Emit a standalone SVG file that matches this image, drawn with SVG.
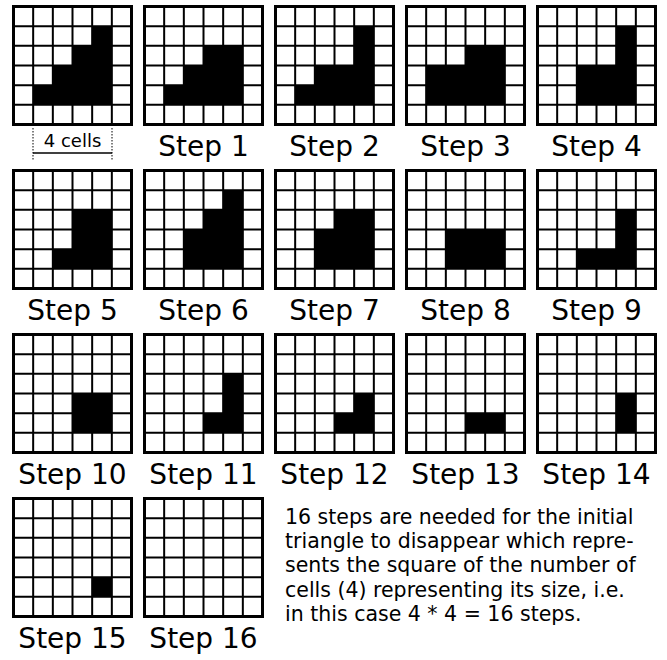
<svg xmlns="http://www.w3.org/2000/svg" xmlns:xlink="http://www.w3.org/1999/xlink" width="667" height="660" viewBox="0 0 667 660">
<style>
.lbl{font-family:"DejaVu Sans","Liberation Sans",sans-serif;font-size:28px;fill:#000;text-anchor:middle}
.para{font-family:"DejaVu Sans","Liberation Sans",sans-serif;font-size:20.5px;fill:#000}
.dim{font-family:"DejaVu Sans","Liberation Sans",sans-serif;font-size:18px;fill:#000;text-anchor:middle}
.b{fill:#000}
</style>
<defs>
<g id="grid">
<rect x="0" y="0" width="118" height="118" fill="#fff" stroke="#000" stroke-width="3"/>
<path d="M19.667 0V118M39.333 0V118M59 0V118M78.667 0V118M98.333 0V118M0 19.667H118M0 39.333H118M0 59H118M0 78.667H118M0 98.333H118" stroke="#000" stroke-width="2" fill="none"/>
</g>
</defs>
<rect width="667" height="660" fill="#fff"/>

<g id="initial" transform="translate(13.5,6.5)">
<use xlink:href="#grid"/>
<rect class="b" x="78.667" y="19.667" width="19.667" height="19.667"/>
<rect class="b" x="59" y="39.333" width="39.333" height="19.667"/>
<rect class="b" x="39.333" y="59" width="59" height="19.667"/>
<rect class="b" x="19.667" y="78.667" width="78.667" height="19.667"/>
</g>
<g id="dimension">
<path d="M33 128V160M112 128V160" stroke="#000" stroke-width="1" stroke-dasharray="1.5 1.5" fill="none"/>
<path d="M33 153H112" stroke="#000" stroke-width="1.5" fill="none"/>
<text class="dim" x="72.5" y="147">4 cells</text>
</g>

<g id="step1" transform="translate(144.5,6.5)">
<use xlink:href="#grid"/>
<rect class="b" x="59" y="39.333" width="39.333" height="19.667"/>
<rect class="b" x="39.333" y="59" width="59" height="19.667"/>
<rect class="b" x="19.667" y="78.667" width="78.667" height="19.667"/>
</g>
<g id="step2" transform="translate(275.5,6.5)">
<use xlink:href="#grid"/>
<rect class="b" x="78.667" y="19.667" width="19.667" height="39.333"/>
<rect class="b" x="39.333" y="59" width="59" height="19.667"/>
<rect class="b" x="19.667" y="78.667" width="78.667" height="19.667"/>
</g>
<g id="step3" transform="translate(406.5,6.5)">
<use xlink:href="#grid"/>
<rect class="b" x="59" y="39.333" width="39.333" height="19.667"/>
<rect class="b" x="19.667" y="59" width="78.667" height="39.333"/>
</g>
<g id="step4" transform="translate(537.5,6.5)">
<use xlink:href="#grid"/>
<rect class="b" x="78.667" y="19.667" width="19.667" height="39.333"/>
<rect class="b" x="39.333" y="59" width="59" height="39.333"/>
</g>

<g id="step5" transform="translate(13.5,170.5)">
<use xlink:href="#grid"/>
<rect class="b" x="59" y="39.333" width="39.333" height="39.333"/>
<rect class="b" x="39.333" y="78.667" width="59" height="19.667"/>
</g>
<g id="step6" transform="translate(144.5,170.5)">
<use xlink:href="#grid"/>
<rect class="b" x="78.667" y="19.667" width="19.667" height="19.667"/>
<rect class="b" x="59" y="39.333" width="39.333" height="19.667"/>
<rect class="b" x="39.333" y="59" width="59" height="39.333"/>
</g>
<g id="step7" transform="translate(275.5,170.5)">
<use xlink:href="#grid"/>
<rect class="b" x="59" y="39.333" width="39.333" height="19.667"/>
<rect class="b" x="39.333" y="59" width="59" height="39.333"/>
</g>
<g id="step8" transform="translate(406.5,170.5)">
<use xlink:href="#grid"/>
<rect class="b" x="39.333" y="59" width="59" height="39.333"/>
</g>
<g id="step9" transform="translate(537.5,170.5)">
<use xlink:href="#grid"/>
<rect class="b" x="78.667" y="39.333" width="19.667" height="39.333"/>
<rect class="b" x="39.333" y="78.667" width="59" height="19.667"/>
</g>

<g id="step10" transform="translate(13.5,334.5)">
<use xlink:href="#grid"/>
<rect class="b" x="59" y="59" width="39.333" height="39.333"/>
</g>
<g id="step11" transform="translate(144.5,334.5)">
<use xlink:href="#grid"/>
<rect class="b" x="78.667" y="39.333" width="19.667" height="39.333"/>
<rect class="b" x="59" y="78.667" width="39.333" height="19.667"/>
</g>
<g id="step12" transform="translate(275.5,334.5)">
<use xlink:href="#grid"/>
<rect class="b" x="78.667" y="59" width="19.667" height="19.667"/>
<rect class="b" x="59" y="78.667" width="39.333" height="19.667"/>
</g>
<g id="step13" transform="translate(406.5,334.5)">
<use xlink:href="#grid"/>
<rect class="b" x="59" y="78.667" width="39.333" height="19.667"/>
</g>
<g id="step14" transform="translate(537.5,334.5)">
<use xlink:href="#grid"/>
<rect class="b" x="78.667" y="59" width="19.667" height="39.333"/>
</g>

<g id="step15" transform="translate(13.5,498.5)">
<use xlink:href="#grid"/>
<rect class="b" x="78.667" y="78.667" width="19.667" height="19.667"/>
</g>
<g id="step16" transform="translate(144.5,498.5)">
<use xlink:href="#grid"/>
</g>

<g id="labels">
<text class="lbl" x="203.5" y="156">Step 1</text>
<text class="lbl" x="334.5" y="156">Step 2</text>
<text class="lbl" x="465.5" y="156">Step 3</text>
<text class="lbl" x="596.5" y="156">Step 4</text>
<text class="lbl" x="72.5" y="320">Step 5</text>
<text class="lbl" x="203.5" y="320">Step 6</text>
<text class="lbl" x="334.5" y="320">Step 7</text>
<text class="lbl" x="465.5" y="320">Step 8</text>
<text class="lbl" x="596.5" y="320">Step 9</text>
<text class="lbl" x="72.5" y="484">Step 10</text>
<text class="lbl" x="203.5" y="484">Step 11</text>
<text class="lbl" x="334.5" y="484">Step 12</text>
<text class="lbl" x="465.5" y="484">Step 13</text>
<text class="lbl" x="596.5" y="484">Step 14</text>
<text class="lbl" x="72.5" y="648">Step 15</text>
<text class="lbl" x="203.5" y="648">Step 16</text>
</g>

<g id="note">
<text class="para" x="285" y="523.5">16 steps are needed for the initial</text>
<text class="para" x="285" y="547.9">triangle to disappear which repre-</text>
<text class="para" x="285" y="572.3">sents the square of the number of</text>
<text class="para" x="285" y="596.7">cells (4) representing its size, i.e.</text>
<text class="para" x="285" y="621.1">in this case 4 * 4 = 16 steps.</text>
</g>
</svg>
